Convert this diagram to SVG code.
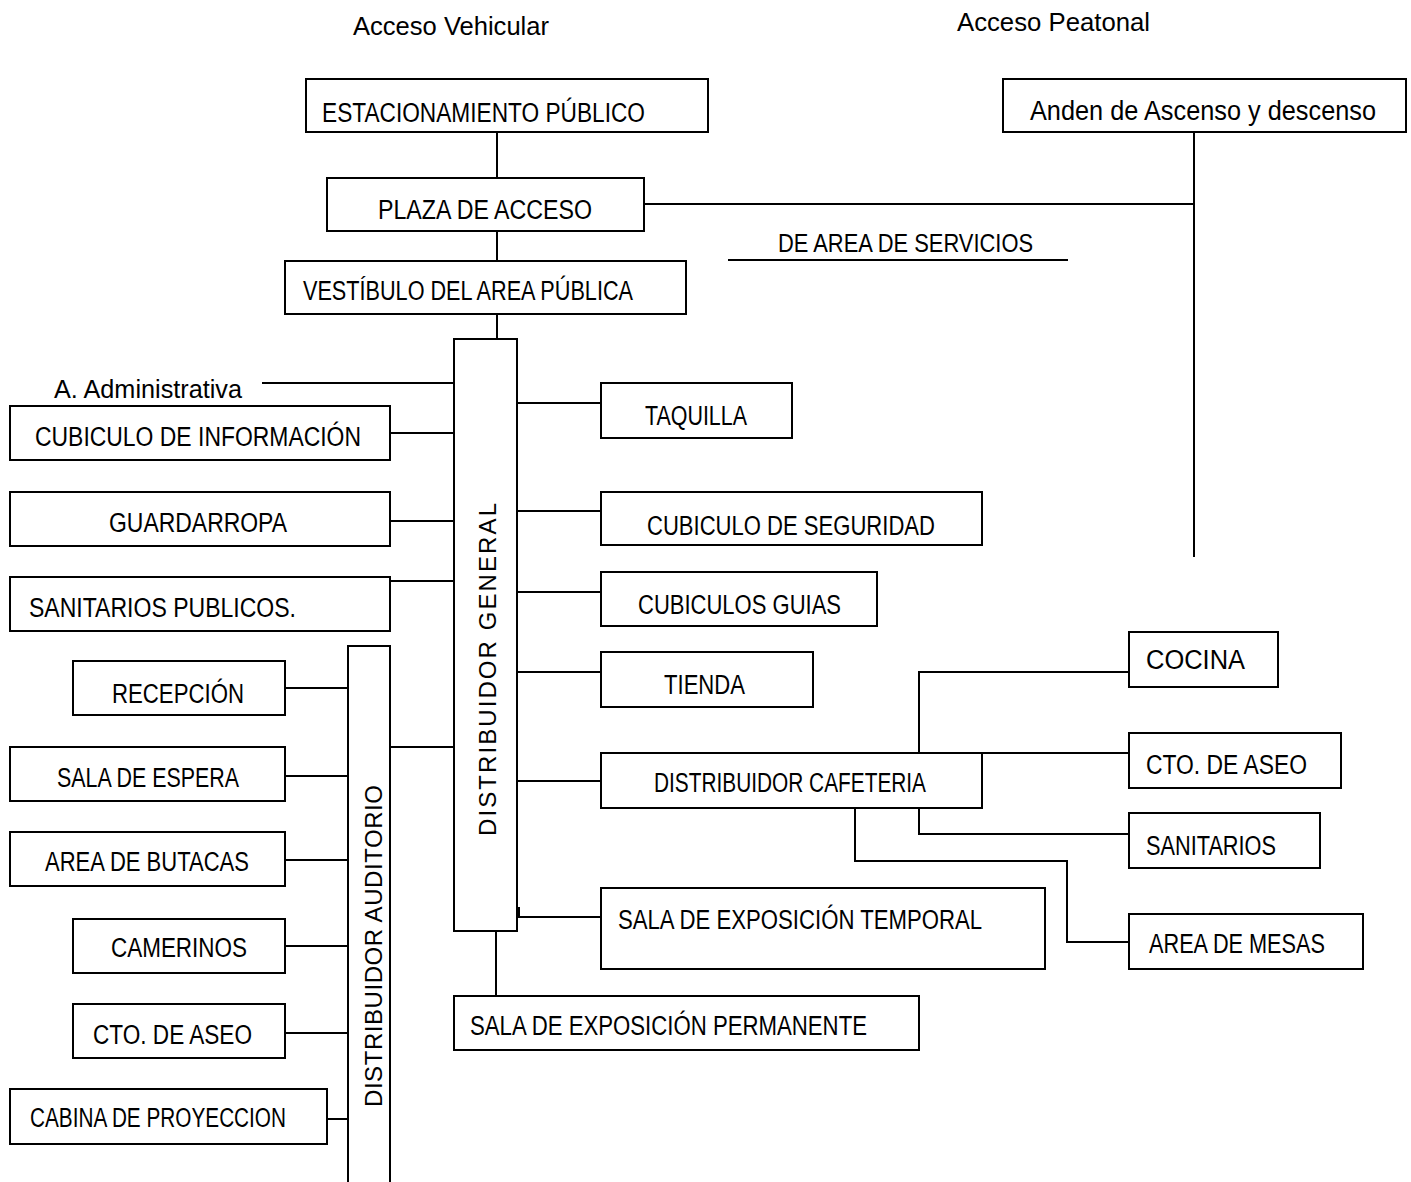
<svg xmlns="http://www.w3.org/2000/svg" width="1411" height="1182" viewBox="0 0 1411 1182">
<style>
.b{fill:#fff;stroke:#000;stroke-width:2}
.c{fill:none;stroke:#000;stroke-width:2}
text{font-family:"Liberation Sans",Arial,sans-serif;font-size:27px;fill:#000}
.s{font-size:25px}
.v{font-size:24px}
</style>
<rect width="1411" height="1182" fill="#fff"/>
<g id="connectors">
<path class="c" d="M497 132V178M497 231V261M497 314V339M644 204H1194M1194 132V557M728 260H1068"/>
<path class="c" d="M262 383H454M390 433H454M390 521H454M390 581H454M390 747H454"/>
<path class="c" d="M517 403H601M517 511H601M517 592H601M517 672H601M517 781H601M519 907V917H601M496 931V996"/>
<path class="c" d="M285 688H348M285 776H348M285 860H348M285 946H348M285 1033H348M327 1119H348"/>
<path class="c" d="M982 753H1129M919 753V672H1129M919 808V834H1129M855 808V861H1067V942H1129"/>
</g>
<g id="acceso-vehicular"><text class="s" x="353" y="35" textLength="196" lengthAdjust="spacingAndGlyphs">Acceso Vehicular</text></g>
<g id="acceso-peatonal"><text class="s" x="957" y="31" textLength="193" lengthAdjust="spacingAndGlyphs">Acceso Peatonal</text></g>
<g id="estacionamiento"><rect class="b" x="306" y="79" width="402" height="53"/><text x="322" y="122" textLength="323" lengthAdjust="spacingAndGlyphs">ESTACIONAMIENTO PÚBLICO</text></g>
<g id="anden"><rect class="b" x="1003" y="79" width="403" height="53"/><text x="1030" y="120" textLength="346" lengthAdjust="spacingAndGlyphs">Anden de Ascenso y descenso</text></g>
<g id="plaza"><rect class="b" x="327" y="178" width="317" height="53"/><text x="378" y="219" textLength="214" lengthAdjust="spacingAndGlyphs">PLAZA DE ACCESO</text></g>
<g id="area-servicios"><text class="s" x="778" y="252" textLength="255" lengthAdjust="spacingAndGlyphs">DE AREA DE SERVICIOS</text></g>
<g id="vestibulo"><rect class="b" x="285" y="261" width="401" height="53"/><text x="303" y="300" textLength="330" lengthAdjust="spacingAndGlyphs">VESTÍBULO DEL AREA PÚBLICA</text></g>
<g id="distribuidor-general"><rect class="b" x="454" y="339" width="63" height="592"/><text class="v" transform="translate(496,836) rotate(-90)" x="0" y="0" textLength="333" lengthAdjust="spacing">DISTRIBUIDOR GENERAL</text></g>
<g id="administrativa"><text class="s" x="54" y="398" textLength="188" lengthAdjust="spacingAndGlyphs">A. Administrativa</text></g>
<g id="cubiculo-informacion"><rect class="b" x="10" y="406" width="380" height="54"/><text x="35" y="446" textLength="326" lengthAdjust="spacingAndGlyphs">CUBICULO DE INFORMACIÓN</text></g>
<g id="guardarropa"><rect class="b" x="10" y="492" width="380" height="54"/><text x="109" y="532" textLength="178" lengthAdjust="spacingAndGlyphs">GUARDARROPA</text></g>
<g id="sanitarios-publicos"><rect class="b" x="10" y="577" width="380" height="54"/><text x="29" y="617" textLength="267" lengthAdjust="spacingAndGlyphs">SANITARIOS  PUBLICOS.</text></g>
<g id="taquilla"><rect class="b" x="601" y="383" width="191" height="55"/><text x="645" y="425" textLength="102" lengthAdjust="spacingAndGlyphs">TAQUILLA</text></g>
<g id="seguridad"><rect class="b" x="601" y="492" width="381" height="53"/><text x="647" y="535" textLength="288" lengthAdjust="spacingAndGlyphs">CUBICULO DE SEGURIDAD</text></g>
<g id="guias"><rect class="b" x="601" y="572" width="276" height="54"/><text x="638" y="614" textLength="203" lengthAdjust="spacingAndGlyphs">CUBICULOS  GUIAS</text></g>
<g id="tienda"><rect class="b" x="601" y="652" width="212" height="55"/><text x="664" y="694" textLength="81" lengthAdjust="spacingAndGlyphs">TIENDA</text></g>
<g id="distribuidor-cafeteria"><rect class="b" x="601" y="753" width="381" height="55"/><text x="654" y="792" textLength="272" lengthAdjust="spacingAndGlyphs">DISTRIBUIDOR  CAFETERIA</text></g>
<g id="cocina"><rect class="b" x="1129" y="632" width="149" height="55"/><text x="1146" y="669" textLength="99" lengthAdjust="spacingAndGlyphs">COCINA</text></g>
<g id="cto-aseo-cafeteria"><rect class="b" x="1129" y="733" width="212" height="55"/><text x="1146" y="774" textLength="161" lengthAdjust="spacingAndGlyphs">CTO. DE ASEO</text></g>
<g id="sanitarios"><rect class="b" x="1129" y="813" width="191" height="55"/><text x="1146" y="855" textLength="130" lengthAdjust="spacingAndGlyphs">SANITARIOS</text></g>
<g id="area-mesas"><rect class="b" x="1129" y="914" width="234" height="55"/><text x="1149" y="953" textLength="176" lengthAdjust="spacingAndGlyphs">AREA DE MESAS</text></g>
<g id="sala-temporal"><rect class="b" x="601" y="888" width="444" height="81"/><text x="618" y="929" textLength="364" lengthAdjust="spacingAndGlyphs">SALA DE EXPOSICIÓN TEMPORAL</text></g>
<g id="sala-permanente"><rect class="b" x="454" y="996" width="465" height="54"/><text x="470" y="1035" textLength="397" lengthAdjust="spacingAndGlyphs">SALA DE EXPOSICIÓN PERMANENTE</text></g>
<g id="distribuidor-auditorio"><rect class="b" x="348" y="646" width="42" height="560"/><text class="v" transform="translate(382,1107) rotate(-90)" x="0" y="0" textLength="322" lengthAdjust="spacing">DISTRIBUIDOR AUDITORIO</text></g>
<g id="recepcion"><rect class="b" x="73" y="661" width="212" height="54"/><text x="112" y="703" textLength="132" lengthAdjust="spacingAndGlyphs">RECEPCIÓN</text></g>
<g id="sala-espera"><rect class="b" x="10" y="747" width="275" height="54"/><text x="57" y="787" textLength="182" lengthAdjust="spacingAndGlyphs">SALA DE ESPERA</text></g>
<g id="area-butacas"><rect class="b" x="10" y="832" width="275" height="54"/><text x="45" y="871" textLength="204" lengthAdjust="spacingAndGlyphs">AREA DE BUTACAS</text></g>
<g id="camerinos"><rect class="b" x="73" y="919" width="212" height="54"/><text x="111" y="957" textLength="136" lengthAdjust="spacingAndGlyphs">CAMERINOS</text></g>
<g id="cto-aseo-auditorio"><rect class="b" x="73" y="1004" width="212" height="54"/><text x="93" y="1044" textLength="159" lengthAdjust="spacingAndGlyphs">CTO.  DE ASEO</text></g>
<g id="cabina"><rect class="b" x="10" y="1089" width="317" height="55"/><text x="30" y="1127" textLength="256" lengthAdjust="spacingAndGlyphs">CABINA DE PROYECCION</text></g>
</svg>
